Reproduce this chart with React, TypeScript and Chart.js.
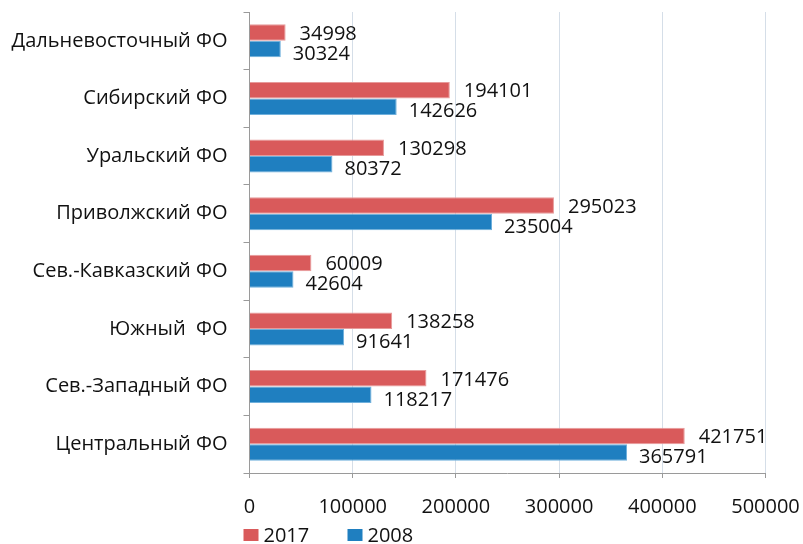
import React, { useEffect, useRef } from "react";
import { Chart, registerables } from "chart.js";

Chart.register(...registerables);

const categories = [
  "Дальневосточный ФО",
  "Сибирский ФО",
  "Уральский ФО",
  "Приволжский ФО",
  "Сев.-Кавказский ФО",
  "Южный  ФО",
  "Сев.-Западный ФО",
  "Центральный ФО",
];
const seriesNames = ["2017", "2008"];
const values2017 = [34998, 194101, 130298, 295023, 60009, 138258, 171476, 421751];
const values2008 = [30324, 142626, 80372, 235004, 42604, 91641, 118217, 365791];
const xMin = 0;
const xMax = 500000;
const xStep = 100000;

const FONT = "'Open Sans', sans-serif";
const RED = "#d95a5b";
const BLUE = "#1f7fc0";
const AXIS = "#9a9a9a";
const GRID = "#d5dee8";
const TEXT = "#111111";

const labelOffsets = [
  { dx: 14, dy: 1.5 },
  { dx: 12, dy: 5 },
];

const dataLabelPlugin = {
  id: "dataLabels",
  afterDatasetsDraw(chart: any) {
    const ctx = chart.ctx;
    ctx.save();
    ctx.font = `20px ${FONT}`;
    ctx.fillStyle = TEXT;
    ctx.textAlign = "left";
    ctx.textBaseline = "middle";
    chart.data.datasets.forEach((ds: any, di: number) => {
      const meta = chart.getDatasetMeta(di);
      const off = labelOffsets[di] || { dx: 8, dy: 0 };
      meta.data.forEach((bar: any, i: number) => {
        ctx.fillText(String(ds.data[i]), bar.x + off.dx, bar.y + off.dy);
      });
    });
    ctx.restore();
  },
};

const legendPlugin = {
  id: "customLegend",
  afterDraw(chart: any) {
    const ctx = chart.ctx;
    const area = chart.chartArea;
    ctx.save();
    ctx.font = `20px ${FONT}`;
    ctx.textAlign = "left";
    ctx.textBaseline = "alphabetic";
    let x = area.left - 6;
    const baseY = chart.height - 2;
    chart.data.datasets.forEach((ds: any) => {
      ctx.fillStyle = ds.backgroundColor;
      ctx.fillRect(x, baseY - 13, 15, 12);
      ctx.fillStyle = TEXT;
      ctx.fillText(ds.label, x + 20, baseY);
      x += 104;
    });
    ctx.restore();
  },
};

export default function App() {
  const canvasRef = useRef<HTMLCanvasElement | null>(null);

  useEffect(() => {
    if (!canvasRef.current) return;
    const chart = new Chart(canvasRef.current, {
      type: "bar",
      data: {
        labels: categories,
        datasets: [
          {
            label: seriesNames[0],
            data: values2017,
            backgroundColor: RED,
            borderColor: "#e79a9a",
            borderWidth: 1,
            categoryPercentage: 0.573,
            barPercentage: 1.0,
          },
          {
            label: seriesNames[1],
            data: values2008,
            backgroundColor: BLUE,
            borderColor: "#6fb0dc",
            borderWidth: 1,
            categoryPercentage: 0.573,
            barPercentage: 1.0,
          },
        ],
      },
      options: {
        indexAxis: "y",
        animation: false,
        responsive: false,
        devicePixelRatio: 1,
        layout: { padding: { top: 12, right: 37.5, bottom: 28, left: 0 } },
        plugins: {
          legend: { display: false },
          tooltip: { enabled: false },
        },
        scales: {
          x: {
            min: xMin,
            max: xMax,
            afterFit(scale: any) {
              scale.height = 43;
              scale.paddingLeft = 0;
              scale.paddingRight = 0;
            },
            ticks: {
              stepSize: xStep,
              color: TEXT,
              font: { family: FONT, size: 20 },
              padding: 17,
              maxRotation: 0,
              callback: (v: any) => String(v),
            },
            grid: {
              color: GRID,
              tickColor: AXIS,
              tickLength: 5,
              lineWidth: 1,
            },
            border: { color: AXIS, width: 1 },
          },
          y: {
            afterFit(scale: any) {
              scale.width = 249.5;
              scale.paddingTop = 0;
              scale.paddingBottom = 0;
            },
            ticks: {
              color: TEXT,
              font: { family: FONT, size: 20 },
              padding: 16,
            },
            grid: {
              drawOnChartArea: false,
              tickColor: AXIS,
              tickLength: 6,
              offset: true,
            },
            border: { color: AXIS, width: 1 },
          },
        },
      },
      plugins: [dataLabelPlugin, legendPlugin],
    });
    return () => chart.destroy();
  }, []);

  return (
    <div style={{ position: "absolute", left: 0, top: 0, width: 803, height: 544, overflow: "hidden", background: "#fff" }}>
      <canvas ref={canvasRef} width={803} height={544} style={{ display: "block" }} />
    </div>
  );
}
